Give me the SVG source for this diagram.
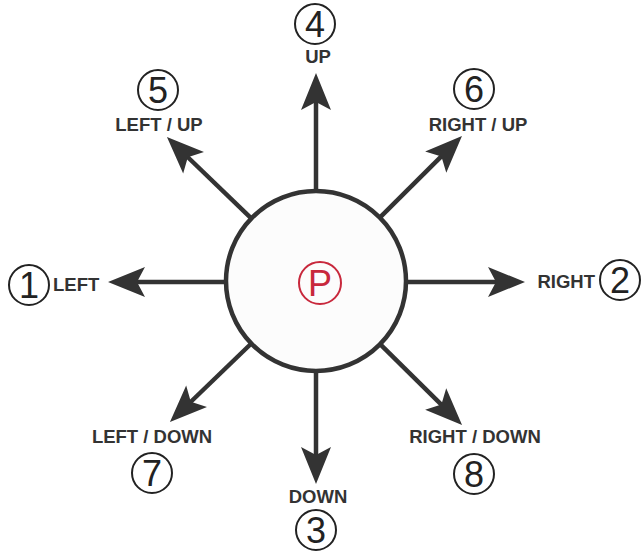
<svg xmlns="http://www.w3.org/2000/svg" width="642" height="552" viewBox="0 0 642 552">
<style>
.lbl{font-family:"Liberation Sans",Arial,sans-serif;font-weight:bold;font-size:18.5px;fill:#333;}
.num{font-family:"Liberation Sans",Arial,sans-serif;font-size:36px;fill:#222;text-anchor:middle;}
.ring{fill:none;stroke:#222;stroke-width:2;}
.conn{stroke:#333;stroke-width:4.5;fill:none;marker-end:url(#ah);}
</style>
<defs>
<marker id="ah" markerUnits="userSpaceOnUse" viewBox="-10 -16 40 32" refX="0" refY="0" markerWidth="40" markerHeight="32" orient="auto">
<path d="M28,0 L-9,-15 L-1,0 L-9,15 Z" fill="#333"/>
</marker>
</defs>
<g id="connectors">
<line class="conn" x1="316" y1="191" x2="316" y2="101"/>
<line class="conn" x1="316" y1="371" x2="316" y2="456"/>
<line class="conn" x1="226" y1="282" x2="136" y2="282"/>
<line class="conn" x1="406" y1="282" x2="497" y2="282"/>
<line class="conn" x1="251.3" y1="218.4" x2="187.1" y2="156.5"/>
<line class="conn" x1="379.8" y1="217.6" x2="442.1" y2="155.7"/>
<line class="conn" x1="251.3" y1="343.5" x2="190.1" y2="402.5"/>
<line class="conn" x1="380.1" y1="344.2" x2="442.1" y2="405.3"/>
</g>
<g id="center">
<circle cx="316" cy="281" r="90" fill="#fcfcfc" stroke="#333" stroke-width="4.5"/>
<circle cx="320" cy="283" r="21" fill="none" stroke="#c8283c" stroke-width="2"/>
<text x="320" y="296" text-anchor="middle" font-family="'Liberation Sans',Arial,sans-serif" font-size="36" fill="#c8283c">P</text>
</g>
<g id="n1">
<circle class="ring" cx="29" cy="285" r="20"/>
<text class="num" x="29" y="298">1</text>
<text class="lbl" x="53" y="291">LEFT</text>
</g>
<g id="n2">
<circle class="ring" cx="620" cy="280" r="20"/>
<text class="num" x="620" y="293">2</text>
<text class="lbl" x="595" y="288" text-anchor="end">RIGHT</text>
</g>
<g id="n3">
<text class="lbl" x="318" y="503" text-anchor="middle">DOWN</text>
<circle class="ring" cx="316" cy="530" r="20"/>
<text class="num" x="316" y="543">3</text>
</g>
<g id="n4">
<circle class="ring" cx="315" cy="24" r="20"/>
<text class="num" x="315" y="37">4</text>
<text class="lbl" x="318" y="63" text-anchor="middle">UP</text>
</g>
<g id="n5">
<circle class="ring" cx="158" cy="90" r="20"/>
<text class="num" x="158" y="103">5</text>
<text class="lbl" x="159" y="131" text-anchor="middle">LEFT / UP</text>
</g>
<g id="n6">
<circle class="ring" cx="474" cy="89" r="20"/>
<text class="num" x="474" y="102">6</text>
<text class="lbl" x="478" y="131" text-anchor="middle">RIGHT / UP</text>
</g>
<g id="n7">
<text class="lbl" x="152" y="443" text-anchor="middle">LEFT / DOWN</text>
<circle class="ring" cx="152" cy="473" r="20"/>
<text class="num" x="152" y="486">7</text>
</g>
<g id="n8">
<text class="lbl" x="475" y="443" text-anchor="middle">RIGHT / DOWN</text>
<circle class="ring" cx="474" cy="474" r="20"/>
<text class="num" x="474" y="487">8</text>
</g>
</svg>
